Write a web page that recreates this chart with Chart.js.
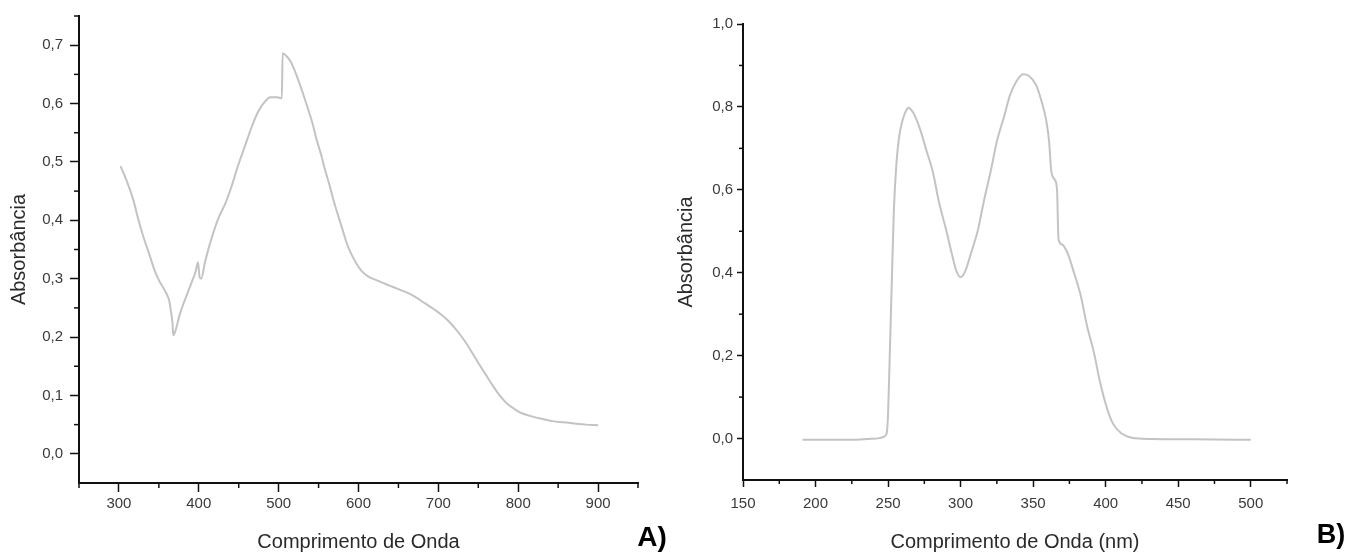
<!DOCTYPE html>
<html><head><meta charset="utf-8">
<script src="https://cdn.jsdelivr.net/npm/chart.js@4/dist/chart.umd.min.js"></script>
<style>
html,body{margin:0;padding:0;background:#fff;}
body{width:1353px;height:554px;position:relative;overflow:hidden;font-family:"Liberation Sans",Arial,sans-serif;}
#ca{position:absolute;left:0;top:0;}
#cb{position:absolute;left:660px;top:0;}
.tag{position:absolute;font-weight:bold;color:#000;line-height:1;transform:translate(-50%,-50%);font-family:"Liberation Sans",Arial,sans-serif;}
</style></head><body>
<canvas id="ca" width="680" height="554"></canvas>
<canvas id="cb" width="693" height="554"></canvas>
<div class="tag" style="left:652px;top:537px;font-size:28px">A)</div>
<div class="tag" style="left:1331px;top:534px;font-size:27px">B)</div>
<script>
// ---------- Panel A data ----------
const wavelengthA = [302,311,318,324,331,338,345,351,357,361,363,365,367,368,371,376,383,390,396,399,401,403,408,418,425,433,441,449,458,466,474,482,490,498,504,505,510,515,520,526,531,536,542,547,553,558,564,569,575,580,585,590,597,604,612,623,639,650,661,672,683,694,705,713,721,729,737,745,753,762,770,778,786,794,802,815,829,843,857,870,885,900];
const absorbanceA = [0.493,0.463,0.435,0.403,0.370,0.342,0.313,0.295,0.281,0.270,0.262,0.245,0.225,0.203,0.212,0.238,0.265,0.290,0.312,0.328,0.303,0.300,0.330,0.378,0.405,0.428,0.458,0.493,0.528,0.559,0.585,0.602,0.611,0.611,0.609,0.686,0.681,0.672,0.657,0.635,0.615,0.594,0.568,0.541,0.513,0.487,0.459,0.433,0.406,0.384,0.362,0.345,0.327,0.313,0.304,0.297,0.288,0.282,0.276,0.268,0.258,0.248,0.237,0.227,0.215,0.201,0.185,0.167,0.149,0.130,0.113,0.098,0.086,0.078,0.071,0.065,0.060,0.056,0.054,0.052,0.050,0.049];
const xTicksA = [300,400,500,600,700,800,900];
const xMinorA = [250,350,450,550,650,750,850,950];
const yTicksA = [0,0.1,0.2,0.3,0.4,0.5,0.6,0.7];
const yMinorA = [0.05,0.15,0.25,0.35,0.45,0.55,0.65,0.75];

// ---------- Panel B data ----------
const wavelengthB = [191,200,210,225,236,244,247,249,250,251,252.5,254,255.5,257.5,260,262,264,266,268,272,276,281,285,290,294,297,300,303,307,312,316,321,325,330,334,338.5,343,347,352,356,359,361,362.5,365,366.5,367.5,370,374,378,383,387,392,396,400.5,405,411,418,432,461,500];
const absorbanceB = [-0.003,-0.003,-0.003,-0.003,-0.001,0.001,0.004,0.012,0.06,0.18,0.37,0.55,0.65,0.725,0.768,0.788,0.798,0.793,0.782,0.747,0.700,0.641,0.572,0.504,0.445,0.405,0.389,0.402,0.445,0.504,0.572,0.649,0.717,0.777,0.828,0.862,0.879,0.875,0.853,0.811,0.768,0.717,0.645,0.624,0.598,0.480,0.468,0.445,0.402,0.342,0.274,0.206,0.138,0.078,0.036,0.012,0.002,-0.001,-0.002,-0.003];
const xTicksB = [150,200,250,300,350,400,450,500];
const xMinorB = [175,225,275,325,375,425,475,525];
const yTicksB = [0,0.2,0.4,0.6,0.8,1.0];
const yMinorB = [0.1,0.3,0.5,0.7,0.9];

const FONT = '"Liberation Sans", Arial, sans-serif';
const AXIS = '#111';

const minorTicks = {
  id: 'minorTicks',
  afterDraw(chart, args, opts) {
    const ctx = chart.ctx, a = chart.chartArea;
    const sx = chart.scales.x, sy = chart.scales.y;
    ctx.save();
    ctx.strokeStyle = AXIS; ctx.lineWidth = 1.5;
    opts.x.forEach(v => { const p = sx.getPixelForValue(v); ctx.beginPath(); ctx.moveTo(p, a.bottom); ctx.lineTo(p, a.bottom + opts.len); ctx.stroke(); });
    opts.y.forEach(v => { const p = sy.getPixelForValue(v); ctx.beginPath(); ctx.moveTo(a.left, p); ctx.lineTo(a.left - opts.len, p); ctx.stroke(); });
    ctx.restore();
  }
};

function build(id, xs, ys, c) {
  return new Chart(document.getElementById(id), {
    type: 'line',
    data: { datasets: [{
      data: xs.map((x, i) => ({ x: x, y: ys[i] })),
      borderColor: '#c3c3c3', borderWidth: 2, pointRadius: 0,
      cubicInterpolationMode: 'monotone', fill: false
    }]},
    options: {
      responsive: false, animation: false, devicePixelRatio: 1,
      layout: { padding: c.pad },
      plugins: { legend: { display: false }, tooltip: { enabled: false },
        minorTicks: { x: c.xMinor, y: c.yMinor, len: c.minorLen } },
      scales: {
        x: {
          type: 'linear', min: c.xMin, max: c.xMax,
          afterBuildTicks: s => { s.ticks = c.xTicks.map(v => ({ value: v })); },
          afterFit: s => { s.height = c.xH; },
          ticks: { callback: v => String(v), font: { family: FONT, size: 15 }, color: '#3a3a3a', padding: c.xPad, maxRotation: 0, autoSkip: false },
          grid: { display: true, drawOnChartArea: false, drawTicks: true, tickLength: c.xTL, tickColor: AXIS, tickWidth: 1.5 },
          border: { display: true, color: AXIS, width: 2 },
          title: { display: true, text: c.xTitle, font: { family: FONT, size: 20 }, color: '#2a2a2a', padding: { top: 0, bottom: 0 } }
        },
        y: {
          type: 'linear', min: c.yMin, max: c.yMax,
          afterBuildTicks: s => { s.ticks = c.yTicks.map(v => ({ value: v })); },
          afterFit: s => { s.width = c.yW; },
          ticks: { callback: v => v.toFixed(1).replace('.', ','), font: { family: FONT, size: 15 }, color: '#3a3a3a', padding: c.yPad, autoSkip: false },
          grid: { display: true, drawOnChartArea: false, drawTicks: true, tickLength: c.yTL, tickColor: AXIS, tickWidth: 1.5 },
          border: { display: true, color: AXIS, width: 2 },
          title: { display: true, text: 'Absorbância', font: { family: FONT, size: 20 }, color: '#2a2a2a', padding: { top: c.yTitlePad, bottom: 0 } }
        }
      }
    },
    plugins: [minorTicks]
  });
}

build('ca', wavelengthA, absorbanceA, {
  pad: { left: 0, right: 42, top: 15, bottom: 0 },
  xMin: 250, xMax: 950, yMin: -0.05, yMax: 0.75,
  xTicks: xTicksA, yTicks: yTicksA, xMinor: xMinorA, yMinor: yMinorA, minorLen: 5,
  xH: 71, yW: 79, xPad: 3, yPad: 7, xTL: 9, yTL: 9, yTitlePad: 7,
  xTitle: 'Comprimento de Onda'
});

build('cb', wavelengthB, absorbanceB, {
  pad: { left: 0, right: 66, top: 24, bottom: 0 },
  xMin: 150, xMax: 525, yMin: -0.1, yMax: 1.0,
  xTicks: xTicksB, yTicks: yTicksB, xMinor: xMinorB, yMinor: yMinorB, minorLen: 4,
  xH: 74, yW: 83, xPad: 8, yPad: 4, xTL: 7, yTL: 6, yTitlePad: 14,
  xTitle: 'Comprimento de Onda (nm)'
});
</script>
</body></html>
